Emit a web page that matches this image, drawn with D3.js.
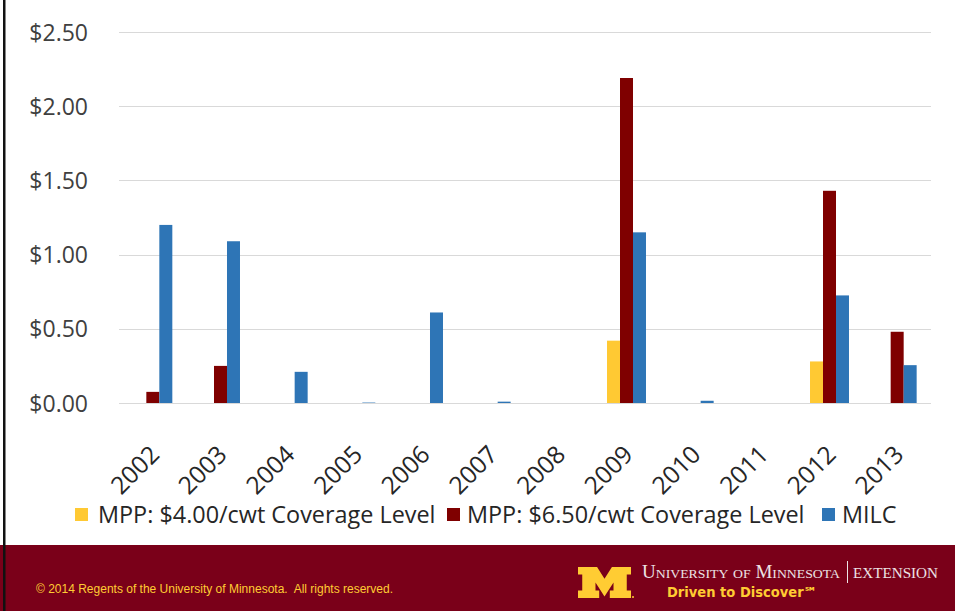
<!DOCTYPE html>
<html>
<head>
<meta charset="utf-8">
<script src="https://cdn.jsdelivr.net/npm/d3@7"></script>
<style>
  html, body { margin: 0; padding: 0; background: #fff; }
  svg { display: block; }
</style>
</head>
<body>
<svg id="chart" width="955" height="611"></svg>
<script>
// Payments per cwt by year under each program
const years = ["2002","2003","2004","2005","2006","2007","2008","2009","2010","2011","2012","2013"];
const mpp400 = [0, 0, 0, 0, 0, 0, 0, 0.42, 0, 0, 0.28, 0];
const mpp650 = [0.075, 0.25, 0, 0, 0, 0, 0, 2.19, 0, 0, 1.43, 0.48];
const milc   = [1.20, 1.09, 0.21, 0.003, 0.61, 0.009, 0, 1.15, 0.015, 0, 0.725, 0.255];
const seriesNames = ["MPP: $4.00/cwt Coverage Level", "MPP: $6.50/cwt Coverage Level", "MILC"];
const seriesColors = ["#FFC933", "#7F0000", "#2E75B6"];
const yTicks = [0, 0.5, 1, 1.5, 2, 2.5];

const series = [mpp400, mpp650, milc];
const svg = d3.select("#chart");
const W = 955, H = 611;
const fontMain = "'Open Sans', 'Noto Sans', sans-serif";

// plot area
const x0 = d3.scaleBand().domain(years).range([119, 931]).paddingInner(0.424).paddingOuter(0.212);
const x1 = d3.scaleBand().domain(d3.range(3)).range([0, x0.bandwidth()]);
const y = d3.scaleLinear().domain([0, 2.5]).range([403, 32]);

// gridlines
svg.append("g")
  .selectAll("line").data(yTicks).join("line")
  .attr("x1", 119).attr("x2", 931)
  .attr("y1", d => Math.round(y(d)) + 0.5).attr("y2", d => Math.round(y(d)) + 0.5)
  .attr("stroke", "#d9d9d9").attr("stroke-width", 1);

// y axis labels
const yAxis = d3.axisLeft(y).tickValues(yTicks).tickSize(0).tickPadding(0)
  .tickFormat(d => "$" + d3.format(".2f")(d));
const gy = svg.append("g").attr("transform", "translate(88,0)").call(yAxis);
gy.select(".domain").remove();
gy.selectAll("text")
  .attr("font-family", fontMain).attr("font-size", 23).attr("fill", "#404040")
  .attr("dy", "0.35em");

// bars
const groups = svg.append("g").selectAll("g").data(years).join("g")
  .attr("transform", d => `translate(${x0(d)},0)`);
groups.selectAll("rect")
  .data((d, i) => series.map((s, k) => ({ k, v: s[i] })))
  .join("rect")
  .attr("x", d => x1(d.k))
  .attr("width", x1.bandwidth())
  .attr("y", d => y(d.v))
  .attr("height", d => y(0) - y(d.v))
  .attr("fill", d => seriesColors[d.k]);

// x axis labels (rotated)
const xAxis = d3.axisBottom(x0).tickSize(0).tickPadding(0);
const gx = svg.append("g").attr("transform", "translate(0,403)").call(xAxis);
gx.select(".domain").remove();
gx.selectAll(".tick text")
  .attr("font-family", fontMain).attr("font-size", 24.5).attr("fill", "#262626")
  .attr("text-anchor", "end")
  .attr("dy", 0).attr("y", 0)
  .attr("transform", "translate(8,53) rotate(-45)");

// legend
const legendItems = [
  { x: 75, tx: 98 },
  { x: 447, tx: 467 },
  { x: 822, tx: 842 }
];
const lg = svg.append("g");
legendItems.forEach((it, k) => {
  lg.append("rect").attr("x", it.x).attr("y", 508).attr("width", 13).attr("height", 13)
    .attr("fill", seriesColors[k]);
  lg.append("text").attr("x", it.tx).attr("y", 523)
    .attr("font-family", fontMain).attr("font-size", 23.4).attr("fill", "#262626")
    .text(seriesNames[k]);
});

// footer banner
const foot = svg.append("g");
foot.append("rect").attr("x", 0).attr("y", 545).attr("width", W).attr("height", H - 545)
  .attr("fill", "#7A0019");
foot.append("text").attr("x", 36).attr("y", 593)
  .attr("font-family", "'Liberation Sans', Arial, sans-serif").attr("font-size", 12)
  .attr("fill", "#FFCC33")
  .style("white-space", "pre")
  .text("© 2014 Regents of the University of Minnesota.  All rights reserved.");

// block M mark
const mx = 578, my = 567, mw = 53, mh = 31;
const mPts = [
  [0,0],[0.36,0],[0.5,0.38],[0.64,0],[1,0],[1,0.24],[0.92,0.24],[0.92,0.76],[1,0.76],[1,1],
  [0.6,1],[0.6,0.76],[0.67,0.76],[0.67,0.5],[0.5,0.95],[0.33,0.5],[0.33,0.76],[0.4,0.76],[0.4,1],
  [0,1],[0,0.76],[0.08,0.76],[0.08,0.24],[0,0.24]
];
foot.append("path")
  .attr("d", "M" + mPts.map(p => [mx + p[0] * mw, my + p[1] * mh].join(",")).join("L") + "Z")
  .attr("fill", "#FFCC33");
foot.append("circle").attr("cx", 633).attr("cy", 597).attr("r", 1).attr("fill", "#FFCC33");

const serif = "'Liberation Serif', 'DejaVu Serif', serif";
foot.append("text").attr("x", 642).attr("y", 578)
  .attr("font-family", serif).attr("font-size", 18).attr("fill", "#EDE3E5")
  .attr("font-variant", "small-caps")
  .attr("textLength", 198).attr("lengthAdjust", "spacingAndGlyphs")
  .text("University of Minnesota");
foot.append("line").attr("x1", 847.5).attr("x2", 847.5).attr("y1", 561).attr("y2", 583)
  .attr("stroke", "#EDE3E5").attr("stroke-width", 1);
foot.append("text").attr("x", 853).attr("y", 578)
  .attr("font-family", serif).attr("font-size", 14).attr("fill", "#EDE3E5")
  .attr("textLength", 85).attr("lengthAdjust", "spacingAndGlyphs")
  .text("EXTENSION");
foot.append("text").attr("x", 667).attr("y", 597)
  .attr("font-family", "'DejaVu Sans', sans-serif").attr("font-weight", "bold")
  .attr("font-size", 14).attr("fill", "#FFCC33")
  .attr("textLength", 150).attr("lengthAdjust", "spacingAndGlyphs")
  .text("Driven to Discover\u2120");

// left frame line
svg.append("rect").attr("x", 3).attr("y", 0).attr("width", 2.5).attr("height", H).attr("fill", "#111");
</script>
</body>
</html>
